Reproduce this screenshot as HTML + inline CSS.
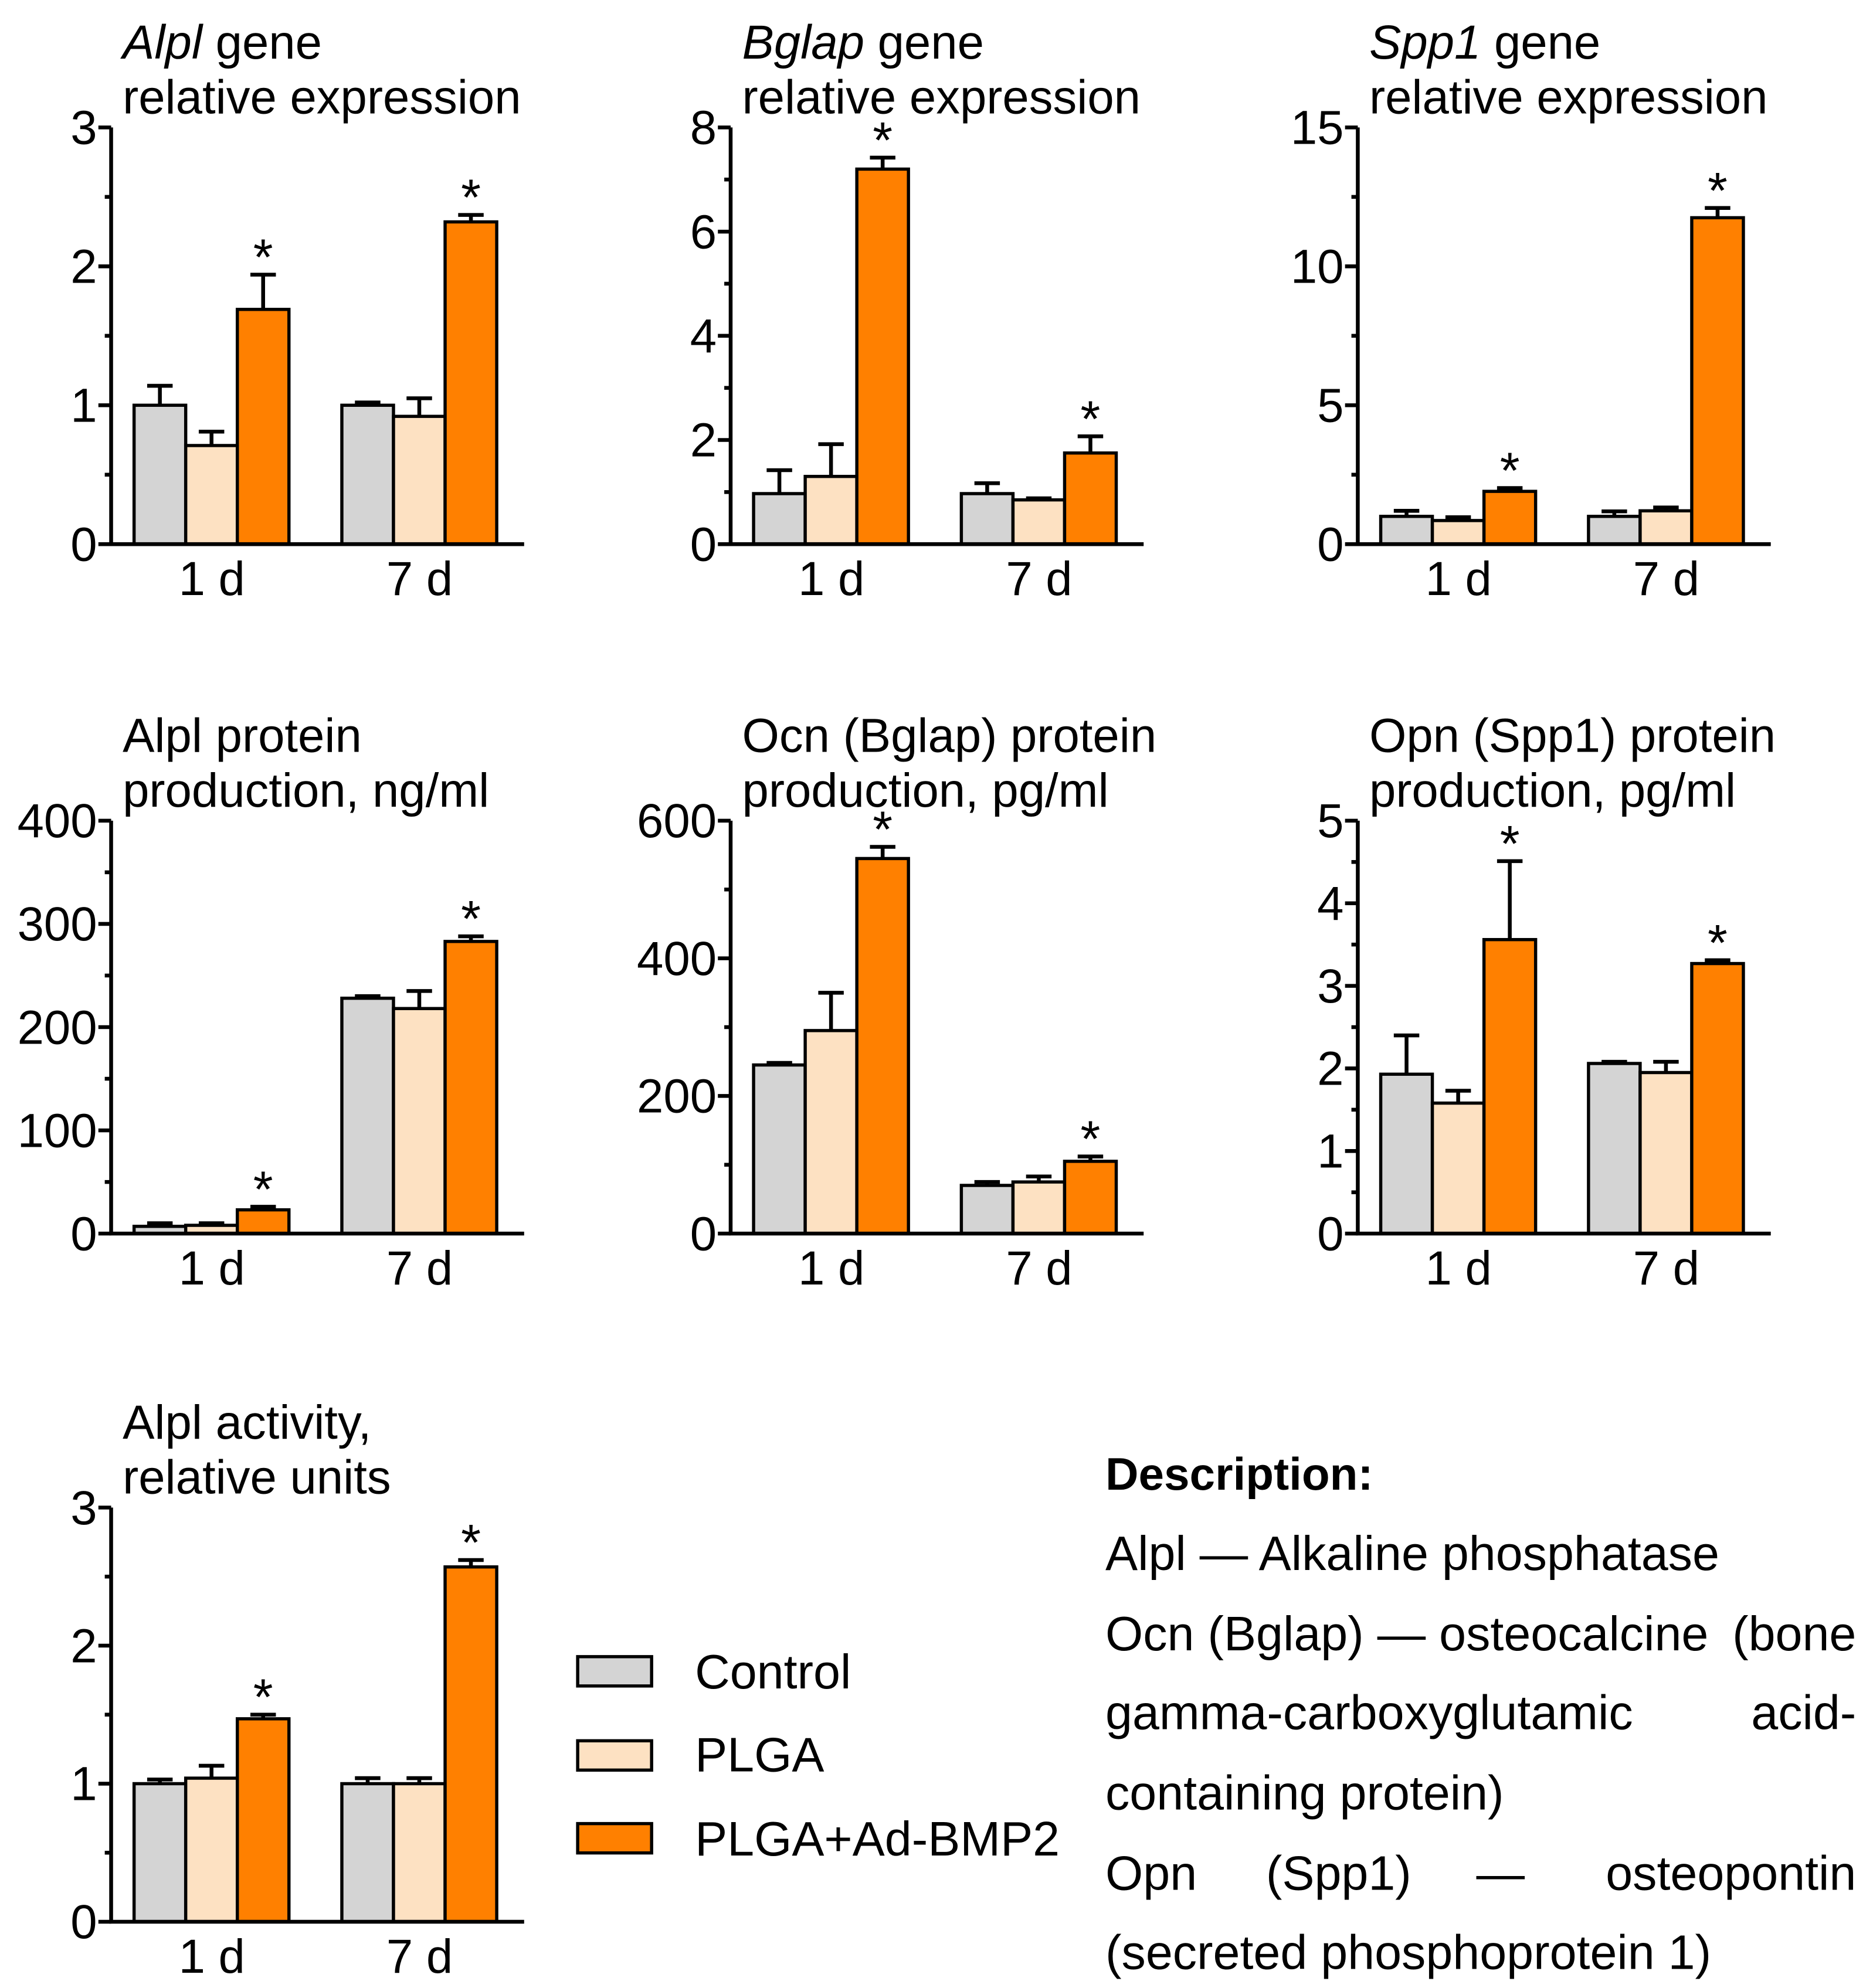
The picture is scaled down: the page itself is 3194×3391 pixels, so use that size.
<!DOCTYPE html>
<html><head><meta charset="utf-8"><style>
html,body{margin:0;padding:0;background:#fff;}
svg{display:block;}
text{font-family:"Liberation Sans",Arial,sans-serif;fill:#000;}
</style></head><body>
<svg id="chart" width="3194" height="3391" viewBox="0 0 1469 1560" xmlns="http://www.w3.org/2000/svg">
<g id="panels"></g>
<g>
<rect x="453" y="1300" width="58" height="23" fill="#d4d4d4" stroke="#000" stroke-width="2.5"/>
<text x="545" y="1325" font-size="38">Control</text>
<rect x="453" y="1366" width="58" height="23" fill="#fde1c2" stroke="#000" stroke-width="2.5"/>
<text x="545" y="1390" font-size="38">PLGA</text>
<rect x="453" y="1431" width="58" height="23" fill="#ff8000" stroke="#000" stroke-width="2.5"/>
<text x="545" y="1456" font-size="38">PLGA+Ad-BMP2</text>
</g>
<g font-size="38">
<text x="867" y="1169" font-weight="bold" font-size="36">Description:</text>
<text x="867" y="1232">Alpl — Alkaline phosphatase</text>
<text x="867" y="1295">Ocn (Bglap) — osteocalcine</text>
<text x="1456" y="1295" text-anchor="end">(bone</text>
<text x="867" y="1357">gamma-carboxyglutamic</text>
<text x="1456" y="1357" text-anchor="end">acid-</text>
<text x="867" y="1420">containing protein)</text>
<text x="867" y="1483">Opn</text>
<text x="993" y="1483">(Spp1)</text>
<text x="1158" y="1483">—</text>
<text x="1456" y="1483" text-anchor="end">osteopontin</text>
<text x="867" y="1545">(secreted phosphoprotein 1)</text>
</g>
</svg>
<script>
const groups = ["1 d", "7 d"];
const seriesNames = ["Control", "PLGA", "PLGA+Ad-BMP2"];
const alplGeneMeans = [[1.0, 0.71, 1.69], [1.0, 0.92, 2.32]];
const alplGeneErr = [[0.14, 0.10, 0.25], [0.02, 0.13, 0.05]];
const alplGeneTicks = [0, 1, 2, 3];
const bglapGeneMeans = [[0.97, 1.3, 7.2], [0.97, 0.85, 1.75]];
const bglapGeneErr = [[0.45, 0.62, 0.22], [0.2, 0.03, 0.32]];
const bglapGeneTicks = [0, 2, 4, 6, 8];
const spp1GeneMeans = [[1.0, 0.85, 1.9], [1.0, 1.2, 11.75]];
const spp1GeneErr = [[0.2, 0.12, 0.12], [0.18, 0.12, 0.35]];
const spp1GeneTicks = [0, 5, 10, 15];
const alplProtMeans = [[7, 8, 23], [228, 218, 283]];
const alplProtErr = [[3, 2, 3], [2, 17, 5]];
const alplProtTicks = [0, 100, 200, 300, 400];
const ocnProtMeans = [[245, 295, 545], [70, 75, 105]];
const ocnProtErr = [[3, 55, 17], [5, 8, 7]];
const ocnProtTicks = [0, 200, 400, 600];
const opnProtMeans = [[1.93, 1.58, 3.56], [2.06, 1.95, 3.27]];
const opnProtErr = [[0.47, 0.15, 0.95], [0.02, 0.13, 0.04]];
const opnProtTicks = [0, 1, 2, 3, 4, 5];
const alplActMeans = [[1.0, 1.04, 1.47], [1.0, 1.0, 2.57]];
const alplActErr = [[0.03, 0.09, 0.03], [0.04, 0.04, 0.05]];
const alplActTicks = [0, 1, 2, 3];
const starFlags = [[false, false, true], [false, false, true]];

const colors = ["#d4d4d4", "#fde1c2", "#ff8000"];
const NS = "http://www.w3.org/2000/svg";
const root = document.getElementById("panels");
function mk(tag, attrs, parent) {
  const e = document.createElementNS(NS, tag);
  for (const k in attrs) e.setAttribute(k, attrs[k]);
  parent.appendChild(e);
  return e;
}
const panels = [
  {name:"alpl-gene", ax:87, top:100, bot:427, means:alplGeneMeans, err:alplGeneErr, ticks:alplGeneTicks, t1:[["Alpl",true],[" gene",false]], t2:"relative expression"},
  {name:"bglap-gene", ax:573, top:100, bot:427, means:bglapGeneMeans, err:bglapGeneErr, ticks:bglapGeneTicks, t1:[["Bglap",true],[" gene",false]], t2:"relative expression"},
  {name:"spp1-gene", ax:1065, top:100, bot:427, means:spp1GeneMeans, err:spp1GeneErr, ticks:spp1GeneTicks, t1:[["Spp1",true],[" gene",false]], t2:"relative expression"},
  {name:"alpl-protein", ax:87, top:644, bot:968, means:alplProtMeans, err:alplProtErr, ticks:alplProtTicks, t1:[["Alpl protein",false]], t2:"production, ng/ml"},
  {name:"ocn-protein", ax:573, top:644, bot:968, means:ocnProtMeans, err:ocnProtErr, ticks:ocnProtTicks, t1:[["Ocn (Bglap) protein",false]], t2:"production, pg/ml"},
  {name:"opn-protein", ax:1065, top:644, bot:968, means:opnProtMeans, err:opnProtErr, ticks:opnProtTicks, t1:[["Opn (Spp1) protein",false]], t2:"production, pg/ml"},
  {name:"alpl-activity", ax:87, top:1183, bot:1508, means:alplActMeans, err:alplActErr, ticks:alplActTicks, t1:[["Alpl activity,",false]], t2:"relative units"}
];
panels.forEach(p => {
  const g = mk("g", {}, root);
  
  
  const maxV = p.ticks[p.ticks.length - 1];
  const y = v => p.bot - (v / maxV) * (p.bot - p.top);
  const tx = p.ax + 9;
  const t1 = mk("text", {x: tx, y: p.top - 54, "font-size": 37.5}, g);
  
  
  p.t1.forEach(([s, it]) => { const ts = mk("tspan", it ? {"font-style":"italic"} : {}, t1); ts.textContent = s; });
  const t2 = mk("text", {x: tx, y: p.top - 11, "font-size": 37.5}, g);
  
  
  t2.textContent = p.t2;
  p.means.forEach((grp, gi) => {
    grp.forEach((v, si) => {
      const bw = 40.5;
      const x0 = p.ax + 18 + gi * 163 + si * bw;
      const r = mk("rect", {x: x0, y: y(v), width: bw, height: p.bot - y(v), fill: colors[si], stroke: "#000", "stroke-width": 2.5}, g);
      
      
      const cx = x0 + bw / 2, ye = y(v + p.err[gi][si]);
      const eb = mk("path", {d: `M${cx},${y(v)}V${ye}M${cx-10},${ye}H${cx+10}`, stroke: "#000", "stroke-width": 3, fill: "none"}, g);
      
      
      if (starFlags[gi][si]) {
        const st = mk("text", {x: cx, y: ye, "font-size": 40, "text-anchor": "middle"}, g);
        
        
        st.textContent = "*";
      }
    });
  });
  const axes = mk("path", {d: `M${p.ax},${p.top}V${p.bot}H${p.ax+324}`, stroke: "#000", "stroke-width": 3, fill: "none"}, g);
  
  
  const step = p.ticks[1] - p.ticks[0];
  p.ticks.forEach((t, i) => {
    const tk = mk("path", {d: `M${p.ax-10},${y(t)}H${p.ax}`, stroke: "#000", "stroke-width": 3}, g);
    
    
    const lb = mk("text", {x: p.ax - 11, y: y(t) + 13, "font-size": 37.5, "text-anchor": "end"}, g);
    
    
    lb.textContent = t;
    if (i < p.ticks.length - 1) {
      const mn = mk("path", {d: `M${p.ax-5},${y(t + step/2)}H${p.ax}`, stroke: "#000", "stroke-width": 3}, g);
      
      
    }
  });
  groups.forEach((gname, gi) => {
    const xl = mk("text", {x: p.ax + 79 + gi * 163, y: p.bot + 40, "font-size": 37.5, "text-anchor": "middle"}, g);
    
    
    xl.textContent = gname;
  });
});
</script>
</body></html>
